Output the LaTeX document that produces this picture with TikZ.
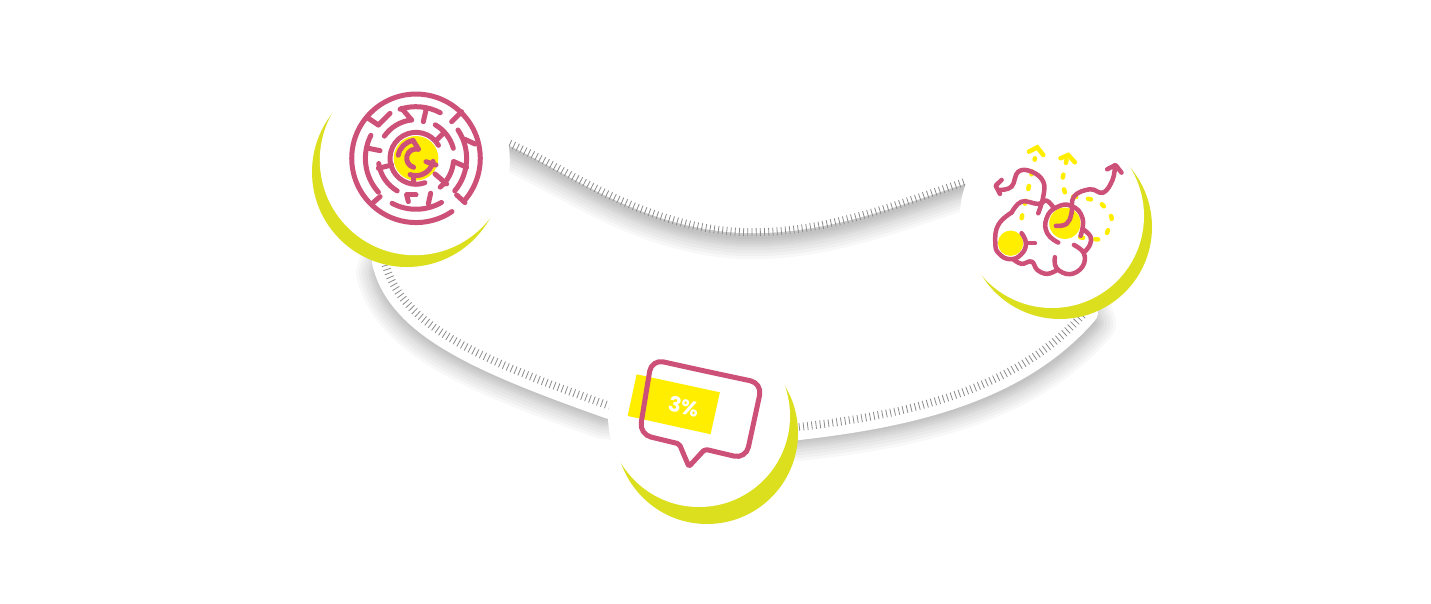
\documentclass[tikz,border=0pt]{standalone}
\usepackage{fontspec}
\setmainfont{Poppins}
\usetikzlibrary{backgrounds}

\definecolor{rose}{RGB}{204,80,120}
\definecolor{lime}{RGB}{219,223,30}
\definecolor{sun}{RGB}{255,238,0}

\newcommand{\bandshadow}[2]{\foreach \w in {4,8,12,16,20,26,32,38,44} {\draw[shadowline,line width=\w pt,transform canvas={shift={#1}}] #2;}}
\newcommand{\mazearc}[3]{\draw[mazeline] (#2:#1) arc[start angle=#2,end angle=#3,radius=#1];}
\newcommand{\mazestub}[4]{\draw[mazeline] ({#1-348},{235-#2}) -- ({#3-348},{235-#4});}

\begin{document}
\begin{tikzpicture}[
              x=1pt,y=-1pt,
              disc/.style={circle,inner sep=0pt,fill=white},
              crescent/.style={circle,inner sep=0pt,fill=lime},
              shadowline/.style={draw=black,draw opacity=.026,line join=round},
              bandline/.style={draw=white,line width=26pt,line join=round},
              tickline/.style={draw=black!45,line width=8pt,dash pattern=on .8pt off 3.4pt},
              mazeline/.style={draw=rose,line width=5pt,line cap=round},
              brainline/.style={draw=rose,line width=4.5pt,line cap=round,line join=round},
              dotline/.style={draw=sun,line width=4.5pt,line cap=round,dash pattern=on 3pt off 12pt},
              chevron/.style={draw=sun,line width=4.5pt,line cap=round,line join=miter}
            ]
              \useasboundingbox (0,0) rectangle (1431,603);

              \node[crescent,minimum size=190pt] (mazemoon) at (407,172) {};
              \node[crescent,minimum size=184pt] (brainmoon) at (1060,227) {};
              \node[crescent,minimum size=182pt] (speechmoon) at (707,433) {};
              \node[disc,minimum size=190pt] (mazedisc) at (414.8,160.2) {};
              \node[disc,minimum size=184pt] (braindisc) at (1052,216) {};
              \node[disc,minimum size=182pt] (speechdisc) at (699,416) {};

              \def\topband{(mazedisc.center) -- (508,143) .. controls (570,170) and (640,226) .. (740,232)
                .. controls (820,235) and (890,207) .. (965,182) -- (braindisc.center)}
              \def\leftband{(mazedisc.center) -- (385,262) .. controls (400,325) and (480,360) .. (610,406) -- (speechdisc.center)}
              \def\rightband{(speechdisc.center) -- (790,428) .. controls (900,416) and (1015,393) .. (1085,312) -- (braindisc.center)}

              \begin{pgfonlayer}{background}
                \fill[white] (0,0) rectangle (1431,603);
                \bandshadow{(0,5)}{\topband}
                \bandshadow{(-7,11)}{\leftband}
                \bandshadow{(9,11)}{\rightband}
                \draw[bandline,line width=24pt,transform canvas={shift={(0,-11)}}] \topband;
                \draw[bandline] \leftband;
                \draw[bandline] \rightband;
                \draw[tickline] \topband;
                \draw[tickline] \leftband;
                \draw[tickline] \rightband;
              \end{pgfonlayer}

              % maze
              \begin{scope}[shift={(416,158.3)},x=.333pt,y=.333pt]
                \fill[sun] (0,0) circle (67);
                \mazearc{193}{-42}{304}
                \mazestub{470}{345}{495}{368}
                \mazestub{205}{115}{235}{135}
                \mazestub{235}{135}{270}{100}
                \mazestub{455}{125}{485}{95}
                \mazearc{155}{108}{62}
                \mazestub{378}{90}{370}{125}
                \mazestub{305}{85}{335}{120}
                \mazearc{116}{97}{145}
                \mazearc{116}{60}{15}
                \mazestub{412}{178}{432}{158}
                \mazearc{152}{34}{-40}
                \mazestub{495}{178}{525}{192}
                \mazestub{462}{245}{500}{262}
                \mazearc{113}{-5}{-50}
                \mazestub{405}{282}{440}{312}
                \mazearc{113}{188}{240}
                \mazestub{235}{265}{275}{255}
                \mazearc{152}{153}{222}
                \mazestub{205}{205}{240}{212}
                \mazestub{240}{350}{215}{372}
                \mazearc{153}{242}{300}
                \mazestub{320}{345}{348}{345}
                \mazestub{320}{345}{325}{365}
                \mazestub{392}{340}{385}{372}
                \mazearc{78}{30}{290}
                \mazearc{28}{75}{255}
                \mazearc{54}{170}{100}
                \mazestub{339}{181}{355}{207}
                \mazearc{52}{-10}{-110}
                \mazestub{378}{245}{408}{255}
                \mazestub{340}{287}{340}{310}
              \end{scope}

              % brain
              \begin{scope}[shift={(950,130)},x=.333pt,y=-.333pt]
                \fill[sun] (182,340) circle (38);
                \fill[sun] (345,280) circle (47);
                \draw[dotline] plot[smooth] coordinates {(215,265) (240,155) (255,85)};
                \draw[chevron] (237,65) -- (262,52) -- (280,75);
                \draw[dotline] plot[smooth] coordinates {(345,187) (338,150) (350,90)};
                \draw[chevron] (332,85) -- (355,75) -- (375,97);
                \draw[dotline] plot[smooth] coordinates {(370,200) (445,215) (485,262) (475,300) (455,328) (390,322)};
                \draw[brainline] plot[smooth,tension=.8] coordinates {(215,310) (228,340) (215,372) (182,388) (148,372) (136,340) (145,285) (185,248)};
                \draw[brainline] (228,340) -- (255,340);
                \draw[brainline] plot[smooth,tension=.7] coordinates {(185,248) (215,215) (265,222) (290,212) (312,235)};
                \draw[brainline] plot[smooth,tension=.7] coordinates {(190,388) (215,402) (245,395) (262,420) (292,432) (322,420)};
                \draw[brainline] plot[smooth,tension=.7] coordinates {(315,382) (320,415) (360,433) (398,410) (402,370) (372,345)};
                \draw[brainline] plot[smooth,tension=.7] coordinates {(400,298) (422,320) (420,345) (405,365)};
                \draw[brainline] plot[smooth,tension=.8] coordinates {(325,338) (292,310) (290,265) (320,232) (365,228) (398,265) (392,318)};
                \draw[brainline] plot[smooth,tension=.7] coordinates {(318,288) (350,282) (365,250) (372,200) (420,178) (460,188) (488,150) (495,110)};
                \draw[brainline] (472,118) -- (497,105) -- (515,128);
                \draw[brainline] plot[smooth,tension=.7] coordinates {(265,250) (280,200) (280,155) (245,125) (205,125) (185,170) (150,180)};
                \draw[brainline] (155,150) -- (137,167) -- (150,192);
              \end{scope}

              % speech bubble
              \begin{scope}[shift={(600,340)},x=.333pt,y=-.333pt]
                \fill[sun] (110,103) -- (360,157) -- (332,283) -- (83,228) -- cycle;
                \node[text=white,rotate=-13,font=\fontsize{21}{21}\selectfont\bfseries] (charge) at (252,200) {3\%};
                \draw[brainline,line width=5pt,rounded corners=12pt] (300,90) -- (487,130) -- (438,357) [rounded corners=2pt] -- (315,328)
                  -- (267,380) -- (238,312) [rounded corners=12pt] -- (118,283) -- (155,58) -- cycle;
              \end{scope}
            \end{tikzpicture}
\end{document}
